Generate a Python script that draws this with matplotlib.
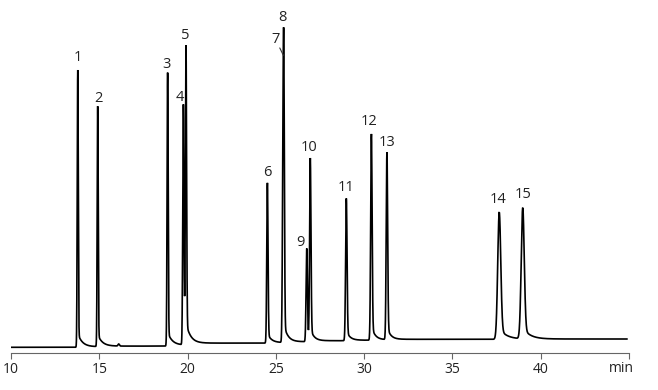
import numpy as np
import matplotlib
matplotlib.use("Agg")
import matplotlib.pyplot as plt
from math import erf

# ---- data ----
peak_labels = ["1", "2", "3", "4", "5", "6", "7", "8", "9", "10", "11", "12", "13", "14", "15"]
peak_times = [13.78, 14.91, 18.87, 19.76, 19.91, 24.52, 25.40, 25.45, 26.75, 26.95,
              28.99, 30.41, 31.29, 37.65, 38.98]           # min
peak_heights = [277, 240, 273, 240, 292, 160, 135, 252, 93, 181,
                142, 206, 187, 127, 131]                     # signal above baseline (a.u.)
peak_sigmas = [0.028, 0.028, 0.030, 0.033, 0.033, 0.035, 0.035, 0.035, 0.038, 0.038,
               0.040, 0.040, 0.040, 0.085, 0.085]            # min
tail_fracs = [0.05, 0.05, 0.05, 0.05, 0.05, 0.06, 0.05, 0.05, 0.06, 0.06,
              0.07, 0.07, 0.07, 0.09, 0.09]
tail_taus = [0.25, 0.25, 0.25, 0.25, 0.25, 0.22, 0.22, 0.22, 0.2, 0.2,
             0.2, 0.2, 0.2, 0.4, 0.4]                        # min
baseline_start = 5.2
baseline_steps = [0.6, 0.6, 1.0, 0.5, 1.5, 0.5, 0.3, 0.6, 0.3, 0.7,
                  0.5, 0.5, 0.4, 0.2, 0.1]
minor_times = [16.1]
minor_heights = [2.0]
x_ticks = [10, 15, 20, 25, 30, 35, 40, 45]
x_tick_labels = ["10", "15", "20", "25", "30", "35", "40", ""]
x_unit = "min"

# ---- build the trace ----
verf = np.vectorize(erf)
t = np.linspace(10, 44.88, 7000)
signal = np.full_like(t, baseline_start)


def peak_shape(t, t0, s, a, tau):
    z = (t - t0)
    core = np.exp(-0.5 * (z / s) ** 2)
    ramp = 0.5 * (1 + verf(z / (s * np.sqrt(2))))
    tail = a * np.exp(-np.clip(z, -5 * s, None) / tau) * ramp
    shape = core + tail
    return shape / shape.max()


for t0, h, s, a, tau, st in zip(peak_times, peak_heights, peak_sigmas,
                                tail_fracs, tail_taus, baseline_steps):
    signal += h * peak_shape(t, t0, s, a, tau)
    signal += st * 0.5 * (1 + verf((t - t0) / 0.15))
for t0, h in zip(minor_times, minor_heights):
    signal += h * np.exp(-0.5 * ((t - t0) / 0.04) ** 2)

# ---- figure ----
W, H = 658, 390
fig = plt.figure(figsize=(W / 100, H / 100), dpi=100)
ax_left, ax_right, ax_bottom_px = 11, 629, 352.5
ax = fig.add_axes([ax_left / W, (H - ax_bottom_px) / H, (ax_right - ax_left) / W, ax_bottom_px / H])
ax.plot(t, signal, color="black", lw=1.2, solid_joinstyle="miter")
ax.set_xlim(10, 45)
ax.set_ylim(0, ax_bottom_px)

for side in ("top", "right", "left"):
    ax.spines[side].set_visible(False)
ax.spines["bottom"].set_color("#666666")
ax.spines["bottom"].set_linewidth(0.8)
ax.set_yticks([])
ax.set_xticks(x_ticks)
ax.set_xticklabels(x_tick_labels, fontsize=10, family="Open Sans", color="#222222")
ax.tick_params(axis="x", direction="out", length=4, width=0.8, color="#666666", pad=3)
ax.text(44.55, -15.5, x_unit, ha="center", va="center", fontsize=10,
        family="Open Sans", color="#222222", clip_on=False)

# label offsets (pixels: dx, dy upward to label centre)
label_offsets = {"1": (0, 12), "2": (1, 8), "3": (-1, 8), "4": (-4, 7), "5": (-0.5, 10),
                 "6": (0, 10), "8": (-1, 10), "9": (-6.5, 6), "10": (-1, 11),
                 "11": (-0.5, 10.5), "12": (-2, 12), "13": (0, 10), "14": (-1, 13),
                 "15": (0, 13)}
px2pt = 0.72
for lab, t0 in zip(peak_labels, peak_times):
    win = (t > t0 - 0.05) & (t < t0 + 0.05)
    idx = np.argmax(np.where(win, signal, -1))
    if lab == "7":
        ax.annotate(lab, xy=(t[idx] - 0.015, signal[idx] - 28), xytext=(-7.5 * px2pt, 15.5 * px2pt),
                    textcoords="offset points", ha="center", va="center", fontsize=10.5,
                    family="Open Sans", color="#222222",
                    arrowprops=dict(arrowstyle="-", color="#333333", lw=0.8,
                                    patchA=None, shrinkA=6.5, shrinkB=0))
        continue
    dx, dy = label_offsets[lab]
    ax.annotate(lab, xy=(t[idx], signal[idx]), xytext=(dx * px2pt, dy * px2pt),
                textcoords="offset points", ha="center", va="center", fontsize=10.5,
                family="Open Sans", color="#222222")

fig.savefig("out.png", dpi=100)
